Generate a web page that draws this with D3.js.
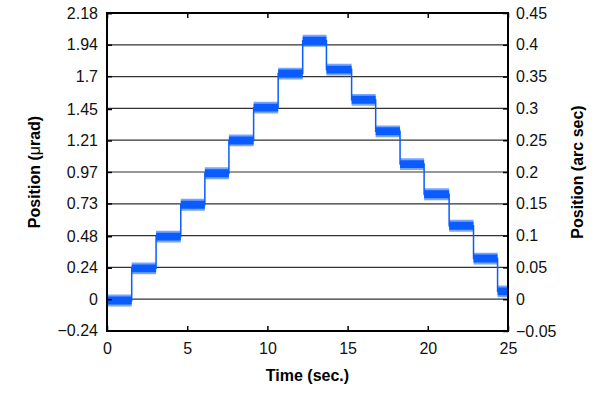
<!DOCTYPE html>
<html>
<head>
<meta charset="utf-8">
<script src="https://cdn.jsdelivr.net/npm/d3@7"></script>
<style>
  body { margin: 0; background: #fff; }
  svg { display: block; font-family: "Liberation Sans", Arial, sans-serif; }
</style>
</head>
<body>
<div id="container"></div>
<script>
// step times (sec) where the position changes
const stepTimes = [0, 1.54, 3.06, 4.6, 6.1, 7.6, 9.14, 10.67, 12.2, 13.68, 15.25, 16.75, 18.27, 19.77, 21.33, 22.85, 24.35];
// plateau level (urad) starting at each step time
const stepLevels = [-0.01, 0.235, 0.477, 0.72, 0.96, 1.21, 1.46, 1.72, 1.97, 1.75, 1.52, 1.28, 1.03, 0.80, 0.56, 0.31, 0.06];
const endTime = 25;
const noiseHalf = 0.03;

const xTicks = [0, 5, 10, 15, 20, 25];
const leftTicks = [-0.24, 0, 0.24, 0.48, 0.73, 0.97, 1.21, 1.45, 1.7, 1.94, 2.18];
const rightTicks = [-0.05, 0, 0.05, 0.1, 0.15, 0.2, 0.25, 0.3, 0.35, 0.4, 0.45];

const width = 600, height = 393;
const plot = { left: 107, right: 508, top: 13, bottom: 331 };

const svg = d3.select("#container").append("svg")
    .attr("width", width)
    .attr("height", height);

const x = d3.scaleLinear().domain([0, 25]).range([plot.left, plot.right]);
const yRight = d3.scaleLinear().domain([-0.05, 0.45]).range([plot.bottom, plot.top]);
// 1 arc sec = 4.848 urad
const yLeft = d3.scaleLinear().domain([-0.05 * 4.848, 0.45 * 4.848]).range([plot.bottom, plot.top]);

// gridlines
svg.append("g")
    .selectAll("line")
    .data(rightTicks.slice(1, -1))
    .join("line")
    .attr("x1", plot.left).attr("x2", plot.right)
    .attr("y1", d => yRight(d)).attr("y2", d => yRight(d))
    .attr("stroke", "#333").attr("stroke-width", 1.2);

// series
const points = stepTimes.map((t, i) => ({ t: t, v: stepLevels[i] }));
points.push({ t: endTime, v: stepLevels[stepLevels.length - 1] });

const blue = "#0a5cff";

const band = (h) => d3.area()
    .x(d => x(d.t))
    .y0(d => yLeft(d.v - h))
    .y1(d => yLeft(d.v + h))
    .curve(d3.curveStepAfter);

svg.append("path").datum(points)
    .attr("d", band(noiseHalf * 1.5))
    .attr("fill", blue).attr("fill-opacity", 0.55);

svg.append("path").datum(points)
    .attr("d", band(noiseHalf))
    .attr("fill", blue);

svg.append("path").datum(points)
    .attr("d", d3.line().x(d => x(d.t)).y(d => yLeft(d.v)).curve(d3.curveStepAfter))
    .attr("fill", "none").attr("stroke", blue).attr("stroke-width", 1.5);

// axes
const fontSize = 16;

const bottomAxis = svg.append("g")
    .attr("transform", `translate(0,${plot.bottom})`)
    .call(d3.axisBottom(x).tickValues(xTicks).tickSizeInner(-5).tickSizeOuter(0).tickPadding(12));

const topAxis = svg.append("g")
    .attr("transform", `translate(0,${plot.top})`)
    .call(d3.axisTop(x).tickValues(xTicks).tickSizeInner(-5).tickSizeOuter(0).tickFormat(""));

const leftAxis = svg.append("g")
    .attr("transform", `translate(${plot.left},0)`)
    .call(d3.axisLeft(yLeft).tickValues(leftTicks).tickSizeInner(-5).tickSizeOuter(0).tickPadding(9)
        .tickFormat(d => d < 0 ? "\u2212" + Math.abs(d) : String(d)));

const rightAxis = svg.append("g")
    .attr("transform", `translate(${plot.right},0)`)
    .call(d3.axisRight(yRight).tickValues(rightTicks).tickSizeInner(-5).tickSizeOuter(0).tickPadding(8)
        .tickFormat(d => d < 0 ? "\u2212" + Math.abs(d) : String(d)));

[bottomAxis, topAxis, leftAxis, rightAxis].forEach(a => {
    a.select(".domain").remove();
    a.selectAll(".tick line").attr("stroke", "#000").attr("stroke-width", 1.5);
    a.selectAll("text").attr("font-size", fontSize).attr("fill", "#111")
        .attr("font-family", "'Liberation Sans', Arial, sans-serif");
});

// frame
svg.append("rect")
    .attr("x", plot.left).attr("y", plot.top)
    .attr("width", plot.right - plot.left).attr("height", plot.bottom - plot.top)
    .attr("fill", "none").attr("stroke", "#000").attr("stroke-width", 2);

// labels
svg.append("text")
    .attr("x", (plot.left + plot.right) / 2).attr("y", 381)
    .attr("text-anchor", "middle")
    .attr("font-size", 16).attr("font-weight", "bold")
    .text("Time (sec.)");

const leftLabel = svg.append("text")
    .attr("transform", `translate(40,${(plot.top + plot.bottom) / 2}) rotate(-90)`)
    .attr("text-anchor", "middle")
    .attr("font-size", 16).attr("font-weight", "bold");
leftLabel.append("tspan").text("Position (");
leftLabel.append("tspan").attr("font-weight", "normal").text("\u03bc");
leftLabel.append("tspan").text("rad)");

svg.append("text")
    .attr("transform", `translate(583,${(plot.top + plot.bottom) / 2}) rotate(-90)`)
    .attr("text-anchor", "middle")
    .attr("font-size", 16).attr("font-weight", "bold")
    .text("Position (arc sec)");
</script>
</body>
</html>
